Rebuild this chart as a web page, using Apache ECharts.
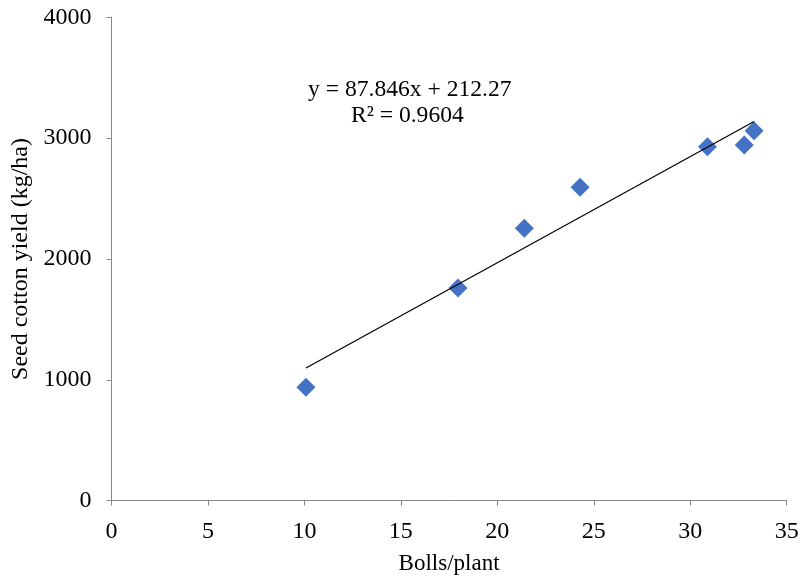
<!DOCTYPE html>
<html>
<head>
<meta charset="utf-8">
<script src="https://cdn.jsdelivr.net/npm/echarts@6/dist/echarts.min.js"></script>
<style>html,body{margin:0;padding:0;background:#fff;}#c{width:802px;height:578px;}</style>
</head>
<body>
<div id="c"></div>
<script>
const bollsPerPlant = [10.08, 17.96, 21.40, 24.29, 30.89, 32.80, 33.31];
const seedCottonYield = [938, 1760, 2254, 2593, 2929, 2943, 3062];
const trendSlope = 87.846;
const trendIntercept = 212.27;
const equationText = 'y = 87.846x + 212.27';
const r2Text = 'R² = 0.9604';
const xTicks = [0, 5, 10, 15, 20, 25, 30, 35];
const yTicks = [0, 1000, 2000, 3000, 4000];

const points = bollsPerPlant.map((x, i) => [x, seedCottonYield[i]]);
const xMin = Math.min(...bollsPerPlant), xMax = Math.max(...bollsPerPlant);
const trend = [[xMin, trendSlope * xMin + trendIntercept], [xMax, trendSlope * xMax + trendIntercept]];

const font = 'Liberation Serif';
const chart = echarts.init(document.getElementById('c'));
chart.setOption({
  backgroundColor: '#fff',
  animation: false,
  textStyle: { fontFamily: font },
  grid: { left: 111.5, right: 15.3, top: 17.3, bottom: 77.3, containLabel: false, outerBoundsMode: 'none' },
  xAxis: {
    type: 'value', min: xTicks[0], max: xTicks[xTicks.length - 1], interval: 5,
    name: 'Bolls/plant', nameLocation: 'middle', nameGap: 52,
    nameTextStyle: { fontFamily: font, fontSize: 23, color: '#000' },
    axisLine: { show: true, lineStyle: { color: '#898989', width: 1 } },
    axisTick: { show: true, length: 5, lineStyle: { color: '#898989' } },
    axisLabel: { fontFamily: font, fontSize: 24, color: '#000', margin: 19, formatter: v => String(v) },
    splitLine: { show: false }
  },
  yAxis: {
    type: 'value', min: yTicks[0], max: yTicks[yTicks.length - 1], interval: 1000,
    name: 'Seed cotton yield (kg/ha)', nameLocation: 'middle', nameGap: 78, nameRotate: 90,
    nameTextStyle: { fontFamily: font, fontSize: 24, color: '#000' },
    axisLine: { show: true, lineStyle: { color: '#898989', width: 1 } },
    axisTick: { show: true, length: 5, lineStyle: { color: '#898989' } },
    axisLabel: { fontFamily: font, fontSize: 24, color: '#000', margin: 20, formatter: v => String(v) },
    splitLine: { show: false }
  },
  graphic: [
    { type: 'text', left: 308, top: 78, style: { text: equationText, font: '23.6px "Liberation Serif"', fill: '#000' } },
    { type: 'text', left: 351, top: 104, style: { text: r2Text, font: '23.6px "Liberation Serif"', fill: '#000' } }
  ],
  series: [
    {
      type: 'line', data: trend, symbol: 'none', silent: true,
      lineStyle: { color: '#000', width: 1.2 }, z: 3
    },
    {
      type: 'scatter', data: points, symbol: 'diamond', symbolSize: 19,
      itemStyle: { color: '#4472C4', opacity: 1 }, z: 2
    }
  ]
});
</script>
</body>
</html>
